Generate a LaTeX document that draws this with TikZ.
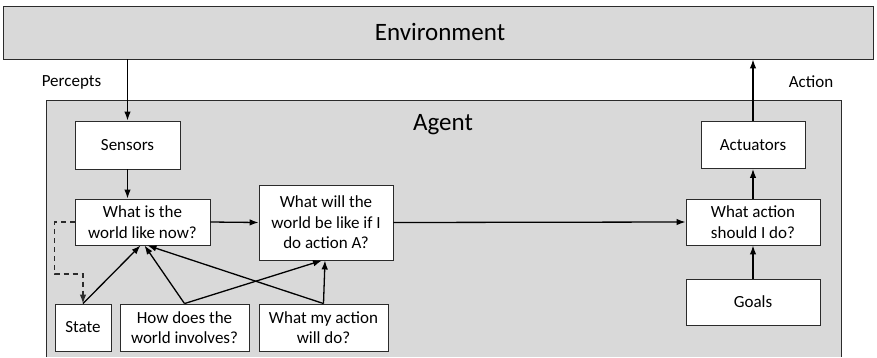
\documentclass[tikz,border=0pt]{standalone}
\usepackage{fontspec}
\setmainfont{Carlito}
\usetikzlibrary{arrows.meta}
\definecolor{panel}{HTML}{D9D9D9}
\definecolor{edge}{HTML}{2B2B2B}
\begin{document}
\begin{tikzpicture}[x=1pt,y=-1pt,
  box/.style={draw=edge,line width=0.9pt,fill=white,inner sep=0pt,align=center,
    font=\fontsize{17}{20.5}\selectfont},
  lbl/.style={inner sep=0pt,font=\fontsize{17}{20.5}\selectfont},
  big/.style={inner sep=0pt,font=\fontsize{25}{30}\selectfont},
  flow/.style={line width=1.3pt,-{Latex[length=9pt,width=6.5pt]}},
  loop/.style={line width=1.3pt,dashed,dash pattern=on 5pt off 4pt,draw=edge,
    -{Latex[length=9pt,width=6.5pt]}}]
\useasboundingbox (0,0) rectangle (877,357);

% outer environment band
\node[draw=edge,line width=0.9pt,fill=panel,minimum width=870pt,minimum height=53pt,
  inner sep=0pt] (env) at (438,32.5) {};
\node[big] (envtext) at (440,32) {Environment};

% agent panel, running past the lower edge
\fill[panel] (46,100) rectangle (841,357);
\draw[edge,line width=0.9pt] (46,357) -- (46,100) -- (841,100) -- (841,357);
\node[big] (agent) at (443,125) {Agent};

\node[lbl] (percepts) at (71.5,82) {Percepts};
\node[lbl] (action) at (811,82) {Action};

% component boxes
\node[box,minimum width=105pt,minimum height=48pt] (sensors) at (127.5,145) {Sensors};
\node[box,minimum width=104pt,minimum height=47pt] (act) at (753,145) {Actuators};
\node[box,minimum width=135pt,minimum height=46pt] (now) at (142.5,222) {What is the\\world like now?};
\node[box,minimum width=134pt,minimum height=75pt] (will) at (326,222.5) {What will the\\world be like if I\\do action A?};
\node[box,minimum width=134pt,minimum height=46pt] (what) at (753,222) {What action\\should I do?};
\node[box,minimum width=134pt,minimum height=46pt] (goals) at (753,302) {Goals};
\node[box,minimum width=56pt,minimum height=47pt] (state) at (83,327.5) {State};
\node[box,minimum width=129pt,minimum height=47pt] (how) at (184.5,327.5) {How does the\\world involves?};
\node[box,minimum width=129pt,minimum height=47pt] (my) at (323.5,327.5) {What my action\\will do?};

% connectors
\draw[flow] (env.south -| sensors.north) -- (sensors.north);
\draw[flow] (act.north) -- (act.north |- env.south);
\draw[flow] (sensors.south) -- (sensors.south |- now.north);
\draw[flow] (now.east) -- (will.west);
\draw[flow] (will.east) -- (what.west);
\draw[flow] (what.north) -- (act.south);
\draw[flow] (goals.north) -- (what.south);
\draw[loop] (now.west) -- ++(-20,0) -- ++(0,52) -| (state.north);
\draw[flow] (state.north) -- ([xshift=-2pt]now.south);
\draw[flow] (how.north) -- ([xshift=2pt]now.south);
\draw[flow] (my.north) -- ([xshift=5pt]now.south);
\draw[flow] (how.north) -- ([xshift=-4pt]will.south);
\draw[flow] (my.north) -- ([xshift=-1pt]will.south);
\end{tikzpicture}
\end{document}
